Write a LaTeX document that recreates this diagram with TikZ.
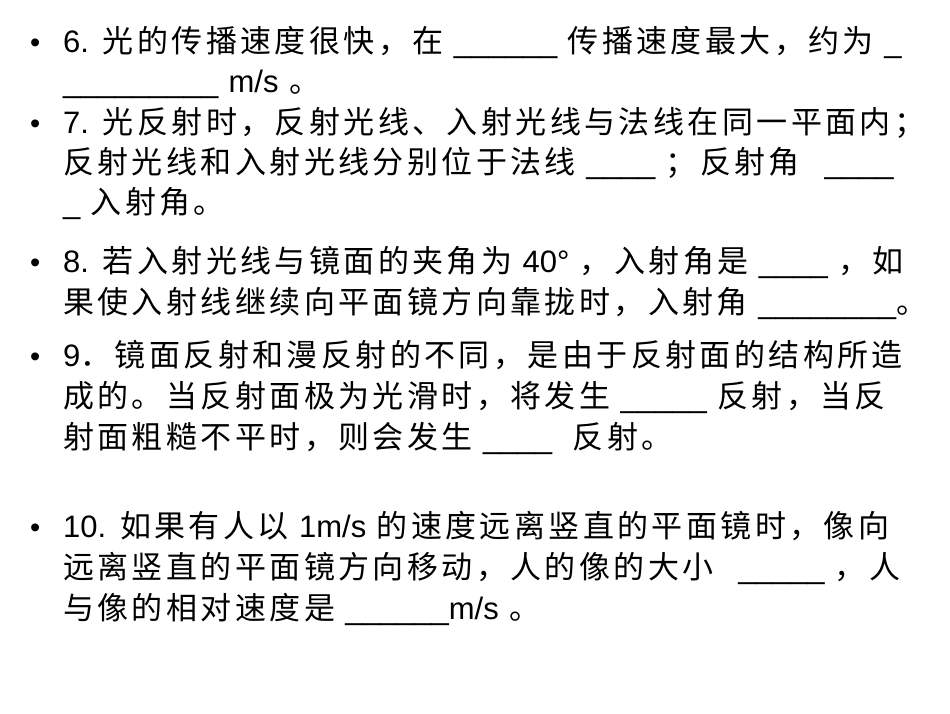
\documentclass[tikz,border=0pt]{standalone}
\usepackage{fontspec}
\setmainfont[LetterSpace=11]{Noto Sans CJK SC}
\newfontfamily\lf{Liberation Sans}
\newcommand{\U}[1]{{\lf\foreach\i in {1,...,#1}{\_}}}
\begin{document}
\begin{tikzpicture}[x=1pt,y=-1pt]
\tikzset{ln/.style={anchor=base west,inner sep=0pt,font=\fontsize{31}{31}\selectfont},
bul/.style={anchor=base west,inner sep=0pt,font=\fontsize{29}{29}\selectfont\lf}}
\fill[white] (0,0) rectangle (950,713);
\node[bul] (b1) at (30,52) {•};
\node[ln] (l1) at (63,52) {{\lf 6.} 光的传播速度很快，在 \U{6} 传播速度最大，约为 \U{1}};
\node[ln] (l2) at (63,92) {\U{9} {\lf m/s} 。};
\node[bul] (b2) at (30,133) {•};
\node[ln] (l3) at (63,133) {{\lf 7.} 光反射时，反射光线、入射光线与法线在同一平面内；};
\node[ln] (l4) at (63,173) {反射光线和入射光线分别位于法线 \U{4} ；反射角\hspace{0.8em}\U{4}};
\node[ln] (l5) at (63,213) {\U{1} 入射角。};
\node[bul] (b3) at (30,272) {•};
\node[ln] (l6) at (63,272) {{\lf 8.} 若入射光线与镜面的夹角为 {\lf 40°} ，入射角是 \U{4} ，如};
\node[ln] (l7) at (63,313) {果使入射线继续向平面镜方向靠拢时，入射角 \U{8}。};
\node[bul] (b4) at (30,366) {•};
\node[ln] (l8) at (63,366) {{\lf 9}．镜面反射和漫反射的不同，是由于反射面的结构所造};
\node[ln] (l9) at (63,407) {成的。当反射面极为光滑时，将发生 \U{5} 反射，当反};
\node[ln] (l10) at (63,448) {射面粗糙不平时，则会发生 \U{4}\ \ 反射。};
\node[bul] (b5) at (30,537) {•};
\node[ln] (l11) at (63,537) {{\lf 10.} 如果有人以 {\lf 1m/s} 的速度远离竖直的平面镜时，像向};
\node[ln] (l12) at (63,578) {远离竖直的平面镜方向移动，人的像的大小\hspace{0.8em}\U{5} ，人};
\node[ln] (l13) at (63,619) {与像的相对速度是 \U{6}{\lf m/s} 。};
\end{tikzpicture}
\end{document}
